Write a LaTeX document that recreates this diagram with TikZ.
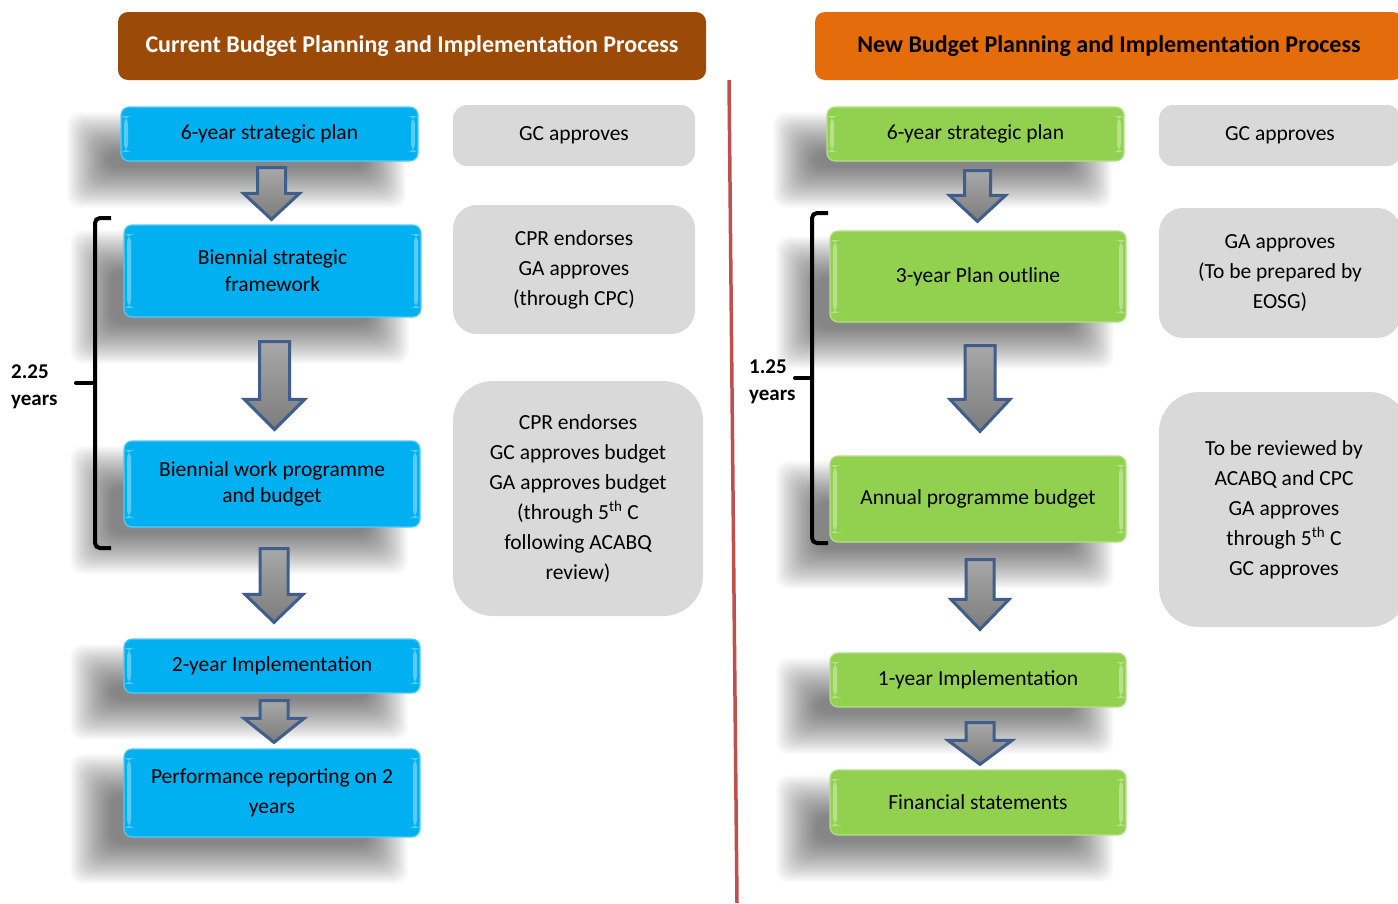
\documentclass[tikz,border=0pt]{standalone}
\usepackage{fontspec}
\setmainfont{Carlito}
\usetikzlibrary{calc}
\pgfdeclarelayer{bg}
\pgfsetlayers{bg,main}
\definecolor{brownhdr}{HTML}{9C4A08}
\definecolor{orangehdr}{HTML}{E46C0A}
\definecolor{bluefill}{HTML}{00B0F0}
\definecolor{blueedge}{HTML}{5CCBF3}
\definecolor{greenfill}{HTML}{92D050}
\definecolor{greenedge}{HTML}{B4E08A}
\definecolor{grayfill}{HTML}{D9D9D9}
\definecolor{redline}{HTML}{C0504D}
\definecolor{arrowedge}{HTML}{3F5E8C}
\definecolor{arrowtop}{HTML}{A8A8A8}
\definecolor{arrowbot}{HTML}{7C7C7C}
\tikzset{
  base/.style={font=\fontsize{21.5}{27}\selectfont, align=center, inner sep=0pt},
  gloss/.style={path picture={
      \fill[white, opacity=0.35] ([xshift=3pt,yshift=-9pt]path picture bounding box.north west) rectangle ([xshift=7pt,yshift=9pt]path picture bounding box.south west);
      \fill[white, opacity=0.35] ([xshift=-3pt,yshift=-9pt]path picture bounding box.north east) rectangle ([xshift=-7pt,yshift=9pt]path picture bounding box.south east);}},
  bluestep/.style={base, gloss, fill=bluefill, draw=blueedge, line width=1.2pt, rounded corners=8pt},
  greenstep/.style={base, gloss, fill=greenfill, draw=greenedge, line width=1.2pt, rounded corners=8pt},
  graynote/.style={base, font=\fontsize{21.5}{30}\selectfont, fill=grayfill, rounded corners=#1},
  graynote/.default=16pt,
  header/.style={base, font=\bfseries\fontsize{24}{28}\selectfont, rounded corners=10pt, minimum width=588pt, minimum height=68pt},
  blockarrow/.style={draw=arrowedge, top color=arrowtop, bottom color=arrowbot, line width=3pt, line join=miter},
  bracket/.style={draw=black, line width=4pt, rounded corners=5pt},
  yearlabel/.style={base, font=\bfseries\fontsize{21}{27}\selectfont, align=left, anchor=west},
  divider/.style={draw=redline, line width=3.5pt},
  shadowlayer/.style={black, fill opacity=0.026, rounded corners=12pt}
}
% soft shadow behind a node, offset down-left
\newcommand\softshadow[1]{%
  \begin{pgfonlayer}{bg}
  \foreach \d in {-20,-18,...,20}{%
    \fill[shadowlayer] ($(#1.north west)+(-33+\d,26+\d)$) rectangle ($(#1.south east)+(-33-\d,26-\d)$);
  }
  \end{pgfonlayer}}
% #1 from, #2 to, #3 top gap, #4 bottom gap, #5 shaft half width, #6 head half width, #7 head length
\newcommand\flowarrow[7]{%
  \draw[blockarrow] let \p1=($(#1.south)+(2,#3)$), \p2=($(#2.north)+(2,-#4)$) in
    (\x1-#5pt,\y1) -- (\x1+#5pt,\y1) -- (\x1+#5pt,\y2+#7pt) -- (\x1+#6pt,\y2+#7pt)
    -- (\x1,\y2) -- (\x1-#6pt,\y2+#7pt) -- (\x1-#5pt,\y2+#7pt) -- cycle;}
\begin{document}
\begin{tikzpicture}[x=1pt,y=-1pt]
\useasboundingbox (0,0) rectangle (1398,903);
\begin{pgfonlayer}{bg}
\fill[white] (0,0) rectangle (1398,903);
\end{pgfonlayer}

% headers
\node[header, fill=brownhdr, text=white] (lh) at (412,46) {Current Budget Planning and Implementation Process};
\node[header, fill=orangehdr, text=black] (rh) at (1109,46) {New Budget Planning and Implementation Process};

% divider
\coordinate (dtop) at (729,80);
\coordinate (dbot) at (737,903);
\draw[divider] (dtop) -- (dbot);

% left column
\node[bluestep, minimum width=297pt, minimum height=54pt] (l1) at (269.5,134) {6-year strategic plan};
\node[bluestep, minimum width=297pt, minimum height=92pt] (l2) at (272.5,271) {Biennial strategic\\framework};
\node[bluestep, minimum width=296pt, minimum height=86pt, font=\fontsize{21.5}{26}\selectfont] (l3) at (272,484) {Biennial work programme\\and budget};
\node[bluestep, minimum width=296pt, minimum height=54pt] (l4) at (272,666) {2-year Implementation};
\node[bluestep, minimum width=296pt, minimum height=88pt, font=\fontsize{21.5}{30}\selectfont] (l5) at (272,793) {Performance reporting on 2\\years};
\softshadow{l1}\softshadow{l2}\softshadow{l3}\softshadow{l4}\softshadow{l5}

\flowarrow{l1}{l2}{6}{5}{14}{28}{26}
\flowarrow{l2}{l3}{24}{11}{15}{30}{30}
\flowarrow{l3}{l4}{21}{16}{14}{29}{28}
\flowarrow{l4}{l5}{7}{6}{14}{30}{24}

\node[graynote=14pt, minimum width=242pt, minimum height=61pt] (lg1) at (574,135.5) {GC approves};
\node[graynote=24pt, minimum width=242pt, minimum height=129pt] (lg2) at (574,269.5) {CPR endorses\\GA approves\\(through CPC)};
\node[graynote=40pt, minimum width=250pt, minimum height=235pt] (lg3) at (578,498.5) {CPR endorses\\GC approves budget\\GA approves budget\\(through 5\textsuperscript{th} C\\following ACABQ\\review)};

% left bracket
\coordinate (lbt) at (111,218);
\coordinate (lbb) at (111,548);
\coordinate (lbm) at (95,383);
\coordinate (lbk) at (76,383);
\draw[bracket] (lbt) -- (95,218) -- (95,548) -- (lbb);
\draw[bracket, rounded corners=0pt, line cap=round] (lbm) -- (lbk);
\node[yearlabel] (ly) at (11,386.5) {2.25\\years};

% right column
\node[greenstep, minimum width=297pt, minimum height=54pt] (r1) at (975.5,134) {6-year strategic plan};
\node[greenstep, minimum width=296pt, minimum height=91pt] (r2) at (978,276.5) {3-year Plan outline};
\node[greenstep, minimum width=296pt, minimum height=86pt] (r3) at (978,499) {Annual programme budget};
\node[greenstep, minimum width=296pt, minimum height=54pt] (r4) at (978,680) {1-year Implementation};
\node[greenstep, minimum width=296pt, minimum height=65pt] (r5) at (978,802.5) {Financial statements};
\softshadow{r1}\softshadow{r2}\softshadow{r3}\softshadow{r4}\softshadow{r5}

\flowarrow{r1}{r2}{9}{9}{13}{28}{26}
\flowarrow{r2}{r3}{23}{24}{15}{30}{32}
\flowarrow{r3}{r4}{17}{23}{14}{29}{30}
\flowarrow{r4}{r5}{15}{5}{14}{32}{24}

\node[graynote=14pt, minimum width=242pt, minimum height=61pt] (rg1) at (1280,135.5) {GC approves};
\node[graynote=24pt, minimum width=242pt, minimum height=130pt] (rg2) at (1280,273) {GA approves\\(To be prepared by\\EOSG)};
\node[graynote=40pt, minimum width=250pt, minimum height=235pt] (rg3) at (1284,509.5) {To be reviewed by\\ACABQ and CPC\\GA approves\\through 5\textsuperscript{th} C\\GC approves};

% right bracket
\coordinate (rbt) at (828,213);
\coordinate (rbb) at (828,543);
\coordinate (rbm) at (812,378);
\coordinate (rbk) at (795,378);
\draw[bracket] (rbt) -- (812,213) -- (812,543) -- (rbb);
\draw[bracket, rounded corners=0pt, line cap=round] (rbm) -- (rbk);
\node[yearlabel] (ry) at (749,381.5) {1.25\\years};
\end{tikzpicture}
\end{document}
